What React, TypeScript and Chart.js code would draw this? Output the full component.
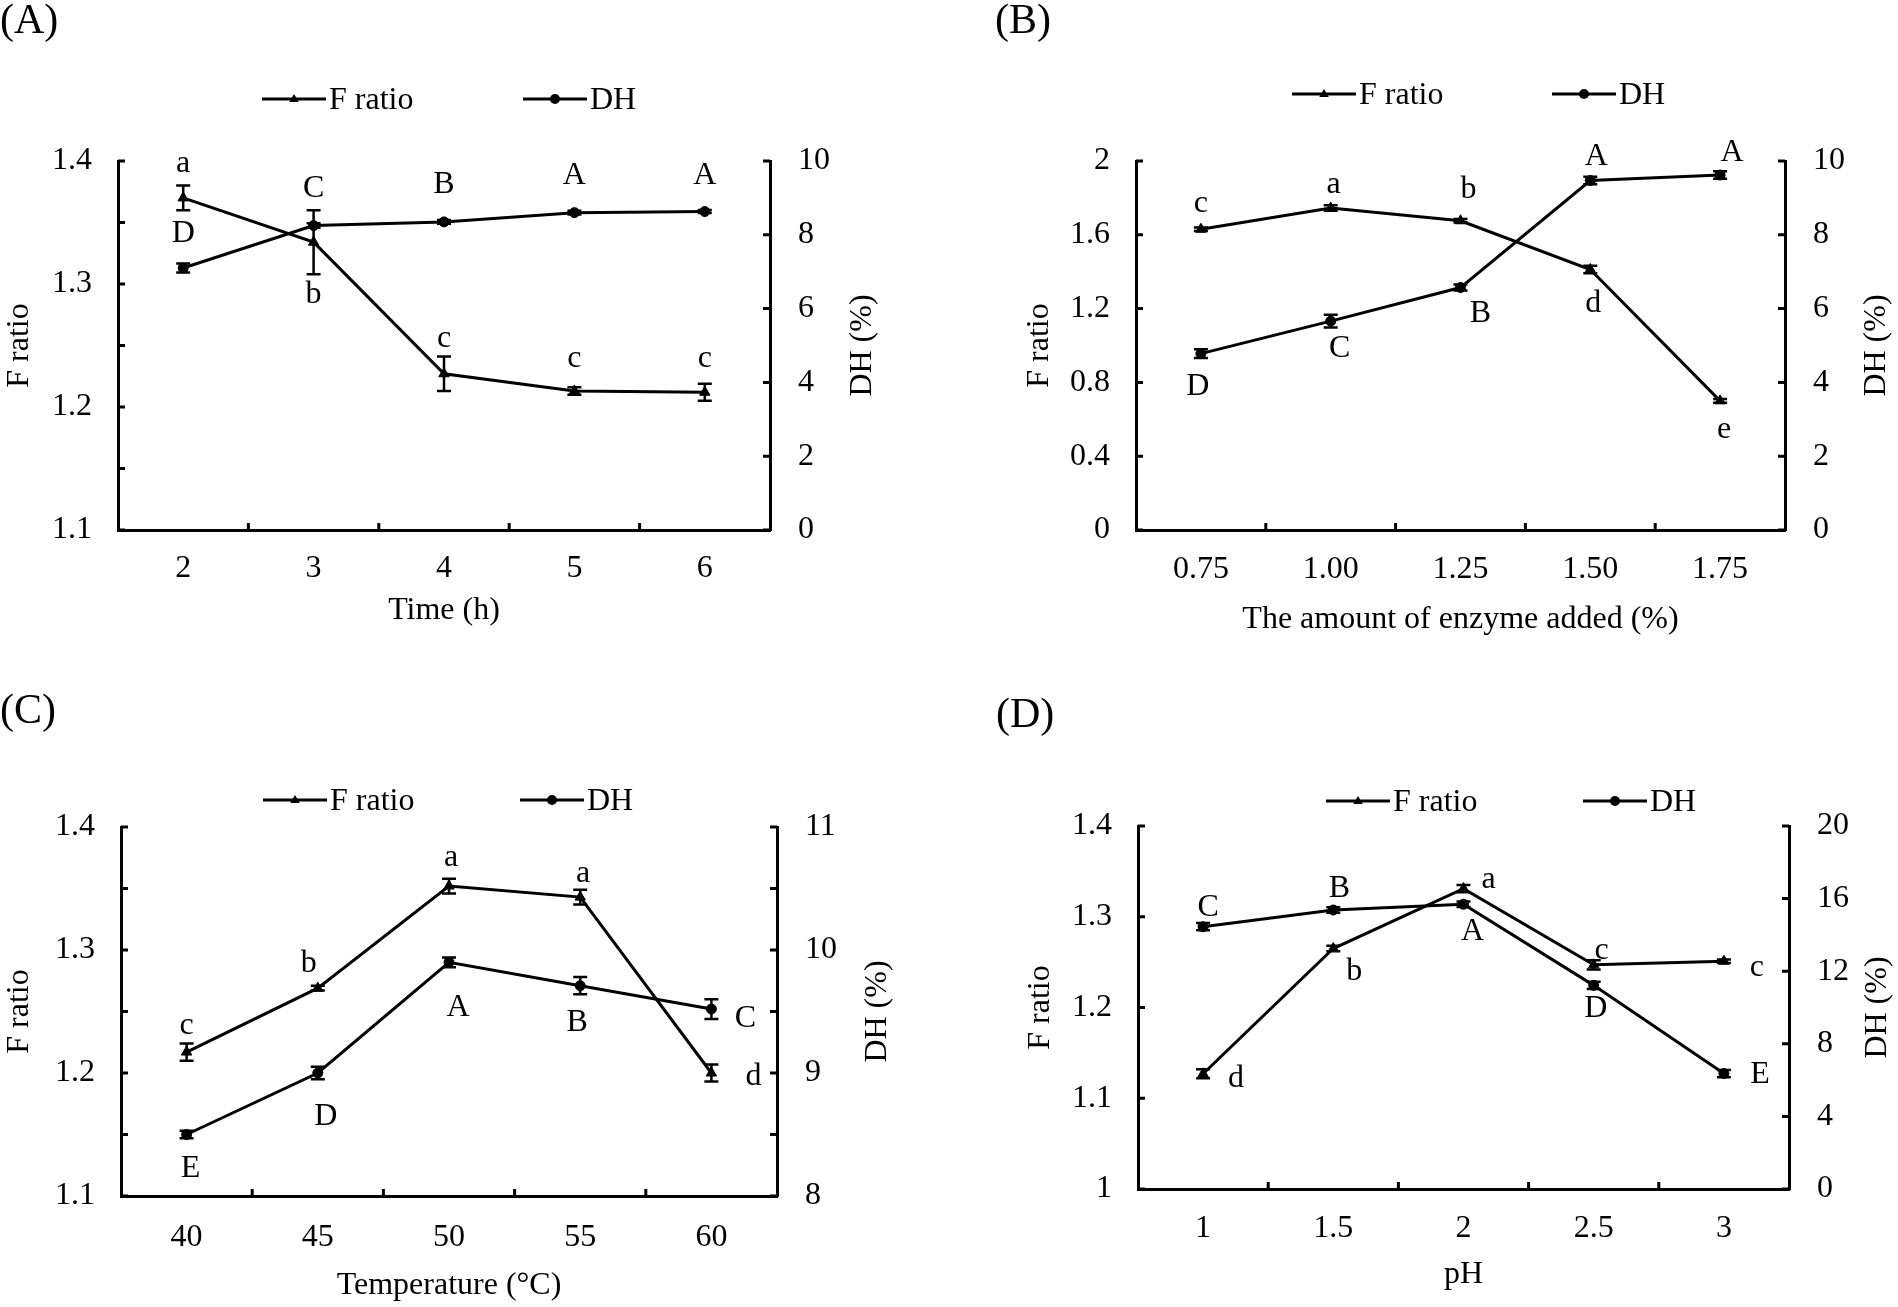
import React, { useEffect, useRef } from 'react';
import { Chart, registerables } from 'chart.js';

Chart.register(...registerables);

const SERIF = '"Liberation Serif", "Times New Roman", Times, serif';
const FS = 32;

// ---------------- (A) Time ----------------
const timeLabels = ['2', '3', '4', '5', '6'];
const timeFRatio = [1.37, 1.334, 1.227, 1.213, 1.212];
const timeFRatioErr = [0.01, 0.026, 0.014, 0.003, 0.007];
const timeDH = [7.1, 8.25, 8.35, 8.6, 8.63];
const timeDHErr = [0.12, 0.06, 0.05, 0.05, 0.04];
const timeFLetters = ['a', 'b', 'c', 'c', 'c'];
const timeDHLetters = ['D', 'C', 'B', 'A', 'A'];
const timeFTicks = [1.1, 1.15, 1.2, 1.25, 1.3, 1.35, 1.4];
const timeFTickLabels = ['1.1', '', '1.2', '', '1.3', '', '1.4'];
const timeDHTicks = [0, 2, 4, 6, 8, 10];
const timeDHTickLabels = ['0', '2', '4', '6', '8', '10'];

// ---------------- (B) Enzyme amount ----------------
const enzymeLabels = ['0.75', '1.00', '1.25', '1.50', '1.75'];
const enzymeFRatio = [1.63, 1.745, 1.676, 1.412, 0.7];
const enzymeFRatioErr = [0.01, 0.015, 0.01, 0.02, 0.01];
const enzymeDH = [4.78, 5.66, 6.57, 9.47, 9.62];
const enzymeDHErr = [0.12, 0.17, 0.08, 0.1, 0.1];
const enzymeFLetters = ['c', 'a', 'b', 'd', 'e'];
const enzymeDHLetters = ['D', 'C', 'B', 'A', 'A'];
const enzymeFTicks = [0, 0.4, 0.8, 1.2, 1.6, 2];
const enzymeFTickLabels = ['0', '0.4', '0.8', '1.2', '1.6', '2'];
const enzymeDHTicks = [0, 2, 4, 6, 8, 10];
const enzymeDHTickLabels = ['0', '2', '4', '6', '8', '10'];

// ---------------- (C) Temperature ----------------
const tempLabels = ['40', '45', '50', '55', '60'];
const tempFRatio = [1.217, 1.269, 1.352, 1.343, 1.2];
const tempFRatioErr = [0.007, 0.002, 0.006, 0.006, 0.007];
const tempDH = [8.5, 9.0, 9.9, 9.71, 9.52];
const tempDHErr = [0.03, 0.05, 0.04, 0.07, 0.08];
const tempFLetters = ['c', 'b', 'a', 'a', 'd'];
const tempDHLetters = ['E', 'D', 'A', 'B', 'C'];
const tempFTicks = [1.1, 1.15, 1.2, 1.25, 1.3, 1.35, 1.4];
const tempFTickLabels = ['1.1', '', '1.2', '', '1.3', '', '1.4'];
const tempDHTicks = [8, 8.5, 9, 9.5, 10, 10.5, 11];
const tempDHTickLabels = ['8', '', '9', '', '10', '', '11'];

// ---------------- (D) pH ----------------
const phLabels = ['1', '1.5', '2', '2.5', '3'];
const phFRatio = [1.127, 1.265, 1.331, 1.247, 1.251];
const phFRatioErr = [0.005, 0.003, 0.004, 0.005, 0.002];
const phDH = [14.45, 15.37, 15.69, 11.22, 6.36];
const phDHErr = [0.2, 0.15, 0.15, 0.2, 0.2];
const phFLetters = ['d', 'b', 'a', 'c', 'c'];
const phDHLetters = ['C', 'B', 'A', 'D', 'E'];
const phFTicks = [1, 1.1, 1.2, 1.3, 1.4];
const phFTickLabels = ['1', '1.1', '1.2', '1.3', '1.4'];
const phDHTicks = [0, 4, 8, 12, 16, 20];
const phDHTickLabels = ['0', '4', '8', '12', '16', '20'];

type Box = {
  L: number; R: number; T: number; B: number; padL: number;
  fTitleX: number; dhTitleX: number; xLabelPad: number; xTitleY: number;
};

type Panel = {
  tag: string; tagX: number; tagY: number;
  labels: string[]; xTitle: string;
  f: number[]; fErr: number[]; fLetters: string[]; fOff: number[][];
  dh: number[]; dhErr: number[]; dhLetters: string[]; dhOff: number[][];
  fTicks: number[]; fTickLabels: string[];
  dhTicks: number[]; dhTickLabels: string[];
  box: Box;
  legend: { x1: number; x2: number; y: number };
};

const PANELS: Panel[] = [
  {
    tag: '(A)', tagX: 0, tagY: 22,
    labels: timeLabels, xTitle: 'Time (h)',
    f: timeFRatio, fErr: timeFRatioErr, fLetters: timeFLetters,
    fOff: [[0, -37], [0, 52], [0, -38], [0, -35], [0, -37]],
    dh: timeDH, dhErr: timeDHErr, dhLetters: timeDHLetters,
    dhOff: [[0, -34], [0, -37], [0, -37], [0, -37], [0, -36]],
    fTicks: timeFTicks, fTickLabels: timeFTickLabels,
    dhTicks: timeDHTicks, dhTickLabels: timeDHTickLabels,
    box: { L: 118, R: 770, T: 161, B: 530, padL: 0, fTitleX: 20, dhTitleX: 863, xLabelPad: 19, xTitleY: 611 },
    legend: { x1: 262, x2: 523, y: 99 },
  },
  {
    tag: '(B)', tagX: 995, tagY: 22,
    labels: enzymeLabels, xTitle: 'The amount of enzyme added (%)',
    f: enzymeFRatio, fErr: enzymeFRatioErr, fLetters: enzymeFLetters,
    fOff: [[0, -29], [3, -26], [8, -31], [3, 34], [4, 26]],
    dh: enzymeDH, dhErr: enzymeDHErr, dhLetters: enzymeDHLetters,
    dhOff: [[-3, 33], [9, 27], [20, 26], [6, -24], [12, -22]],
    fTicks: enzymeFTicks, fTickLabels: enzymeFTickLabels,
    dhTicks: enzymeDHTicks, dhTickLabels: enzymeDHTickLabels,
    box: { L: 1136, R: 1785, T: 161, B: 530, padL: 1000, fTitleX: 1040, dhTitleX: 1877, xLabelPad: 20, xTitleY: 620 },
    legend: { x1: 1292, x2: 1552, y: 94 },
  },
  {
    tag: '(C)', tagX: 0, tagY: 712,
    labels: tempLabels, xTitle: 'Temperature (°C)',
    f: tempFRatio, fErr: tempFRatioErr, fLetters: tempFLetters,
    fOff: [[0, -29], [-9, -25], [2, -31], [3, -27], [42, 4]],
    dh: tempDH, dhErr: tempDHErr, dhLetters: tempDHLetters,
    dhOff: [[4, 34], [8, 44], [9, 45], [-3, 37], [34, 10]],
    fTicks: tempFTicks, fTickLabels: tempFTickLabels,
    dhTicks: tempDHTicks, dhTickLabels: tempDHTickLabels,
    box: { L: 121, R: 777, T: 827, B: 1196, padL: 0, fTitleX: 20, dhTitleX: 878, xLabelPad: 22, xTitleY: 1286 },
    legend: { x1: 263, x2: 520, y: 800 },
  },
  {
    tag: '(D)', tagX: 996, tagY: 716,
    labels: phLabels, xTitle: 'pH',
    f: phFRatio, fErr: phFRatioErr, fLetters: phFLetters,
    fOff: [[33, 5], [21, 23], [25, -12], [8, -17], [33, 3]],
    dh: phDH, dhErr: phDHErr, dhLetters: phDHLetters,
    dhOff: [[5, -19], [6, -21], [9, 27], [2, 23], [36, 1]],
    fTicks: phFTicks, fTickLabels: phFTickLabels,
    dhTicks: phDHTicks, dhTickLabels: phDHTickLabels,
    box: { L: 1138, R: 1789, T: 826, B: 1189, padL: 1000, fTitleX: 1041, dhTitleX: 1878, xLabelPad: 20, xTitleY: 1275 },
    legend: { x1: 1326, x2: 1583, y: 801 },
  },
];

const W = 1898;
const H = 1307;
const RIGHT_AXIS_W = 100;
const TICK_LEN = 7;

function drawMarker(ctx: CanvasRenderingContext2D, style: string, x: number, y: number, r: number) {
  ctx.beginPath();
  if (style === 'triangle') {
    ctx.moveTo(x, y - r);
    ctx.lineTo(x + r * 0.95, y + r * 0.6);
    ctx.lineTo(x - r * 0.95, y + r * 0.6);
    ctx.closePath();
  } else {
    ctx.arc(x, y, r, 0, Math.PI * 2);
  }
  ctx.fill();
}

function letterShift(s: string) {
  return /^[acemnorsuvwxz]$/.test(s) ? 3 : 0;
}

function figurePlugin(p: Panel) {
  return {
    id: 'figure' + p.tag.replace(/[()]/g, ''),
    afterDatasetsDraw(chart: any) {
      const ctx: CanvasRenderingContext2D = chart.ctx;
      ctx.save();
      ctx.strokeStyle = '#000';
      ctx.lineWidth = 2.5;
      chart.data.datasets.forEach((ds: any, di: number) => {
        const meta = chart.getDatasetMeta(di);
        const ys = chart.scales[ds.yAxisID];
        const errs = di === 0 ? p.fErr : p.dhErr;
        meta.data.forEach((pt: any, i: number) => {
          const v = ds.data[i];
          const e = errs[i];
          const y1 = ys.getPixelForValue(v + e);
          const y2 = ys.getPixelForValue(v - e);
          ctx.beginPath();
          ctx.moveTo(pt.x, y1); ctx.lineTo(pt.x, y2);
          ctx.moveTo(pt.x - 7, y1); ctx.lineTo(pt.x + 7, y1);
          ctx.moveTo(pt.x - 7, y2); ctx.lineTo(pt.x + 7, y2);
          ctx.stroke();
        });
      });
      ctx.restore();
    },
    afterDraw(chart: any) {
      const ctx: CanvasRenderingContext2D = chart.ctx;
      const area = chart.chartArea;
      const x = chart.scales.x;
      const yF = chart.scales.yF;
      const yDH = chart.scales.yDH;
      ctx.save();
      // tick marks (inside)
      ctx.strokeStyle = '#000';
      ctx.lineWidth = 3;
      ctx.beginPath();
      yF.ticks.forEach((t: any) => {
        const y = yF.getPixelForValue(t.value);
        ctx.moveTo(area.left, y); ctx.lineTo(area.left + TICK_LEN, y);
      });
      yDH.ticks.forEach((t: any) => {
        const y = yDH.getPixelForValue(t.value);
        ctx.moveTo(area.right - TICK_LEN, y); ctx.lineTo(area.right, y);
      });
      for (let i = 0; i < p.labels.length - 1; i++) {
        const px = x.getPixelForValue(i + 0.5);
        ctx.moveTo(px, area.bottom); ctx.lineTo(px, area.bottom - TICK_LEN);
      }
      ctx.stroke();

      // significance letters
      ctx.fillStyle = '#000';
      ctx.font = `${FS}px ${SERIF}`;
      ctx.textAlign = 'center';
      ctx.textBaseline = 'middle';
      const lettersets = [
        { letters: p.fLetters, off: p.fOff },
        { letters: p.dhLetters, off: p.dhOff },
      ];
      lettersets.forEach((ls, di) => {
        const meta = chart.getDatasetMeta(di);
        meta.data.forEach((pt: any, i: number) => {
          const s = ls.letters[i];
          const [dx, dy] = ls.off[i];
          ctx.fillText(s, pt.x + dx, pt.y + dy + letterShift(s));
        });
      });

      // legend
      const items = [p.legend.x1, p.legend.x2];
      chart.data.datasets.forEach((ds: any, di: number) => {
        const lx = items[di];
        const ly = p.legend.y;
        ctx.strokeStyle = '#000';
        ctx.lineWidth = 3;
        ctx.beginPath();
        ctx.moveTo(lx, ly); ctx.lineTo(lx + 64, ly);
        ctx.stroke();
        ctx.fillStyle = '#000';
        drawMarker(ctx, ds.pointStyle, lx + 32, ly, di === 0 ? 5 : 5);
        ctx.textAlign = 'left';
        ctx.textBaseline = 'middle';
        ctx.fillText(ds.label, lx + 67, ly + 2);
      });

      // right axis title (reads bottom to top)
      ctx.save();
      ctx.translate(p.box.dhTitleX, (area.top + area.bottom) / 2);
      ctx.rotate(-Math.PI / 2);
      ctx.textAlign = 'center';
      ctx.textBaseline = 'middle';
      ctx.fillText('DH (%)', 0, 0);
      ctx.restore();

      // panel tag
      ctx.font = `42px ${SERIF}`;
      ctx.textAlign = 'left';
      ctx.textBaseline = 'middle';
      ctx.fillText(p.tag, p.tagX, p.tagY);
      ctx.restore();
    },
  };
}

function makeConfig(p: Panel): any {
  const b = p.box;
  const xH = b.xTitleY + FS * 0.6 - b.B;
  const font = { family: SERIF, size: FS };
  const axisCommon = {
    grid: { display: false, drawTicks: false },
    border: { display: true, color: '#000', width: 3 },
  };
  return {
    type: 'line',
    data: {
      labels: p.labels,
      datasets: [
        {
          label: 'F ratio', data: p.f, yAxisID: 'yF',
          borderColor: '#000', backgroundColor: '#000', borderWidth: 3,
          pointStyle: 'triangle', pointRadius: 6, pointBackgroundColor: '#000',
          pointBorderColor: '#000', pointBorderWidth: 1, tension: 0, fill: false,
        },
        {
          label: 'DH', data: p.dh, yAxisID: 'yDH',
          borderColor: '#000', backgroundColor: '#000', borderWidth: 3,
          pointStyle: 'circle', pointRadius: 5, pointBackgroundColor: '#000',
          pointBorderColor: '#000', pointBorderWidth: 1, tension: 0, fill: false,
        },
      ],
    },
    options: {
      animation: false,
      responsive: false,
      maintainAspectRatio: false,
      devicePixelRatio: 1,
      events: [],
      layout: {
        padding: {
          left: b.padL,
          top: b.T,
          right: W - b.R - RIGHT_AXIS_W,
          bottom: H - b.B - xH,
        },
      },
      plugins: { legend: { display: false }, tooltip: { enabled: false }, title: { display: false } },
      scales: {
        x: {
          ...axisCommon,
          type: 'category',
          offset: true,
          ticks: { font, color: '#000', padding: b.xLabelPad, maxRotation: 0, autoSkip: false },
          title: { display: true, text: p.xTitle, font, color: '#000', padding: { top: 0, bottom: 0 } },
          afterFit: (s: any) => { s.height = xH; },
        },
        yF: {
          ...axisCommon,
          type: 'linear',
          position: 'left',
          min: p.fTicks[0],
          max: p.fTicks[p.fTicks.length - 1],
          afterBuildTicks: (s: any) => { s.ticks = p.fTicks.map((v) => ({ value: v })); },
          ticks: {
            font, color: '#000', padding: 26, autoSkip: false,
            callback: (_v: any, i: number) => p.fTickLabels[i],
          },
          title: {
            display: true, text: 'F ratio', font, color: '#000',
            padding: { top: b.fTitleX - b.padL - FS * 0.6, bottom: 0 },
          },
          afterFit: (s: any) => { s.width = b.L - b.padL; },
        },
        yDH: {
          ...axisCommon,
          type: 'linear',
          position: 'right',
          min: p.dhTicks[0],
          max: p.dhTicks[p.dhTicks.length - 1],
          afterBuildTicks: (s: any) => { s.ticks = p.dhTicks.map((v) => ({ value: v })); },
          ticks: {
            font, color: '#000', padding: 28, autoSkip: false,
            callback: (_v: any, i: number) => p.dhTickLabels[i],
          },
          title: { display: false },
          afterFit: (s: any) => { s.width = RIGHT_AXIS_W; },
        },
      },
    },
    plugins: [figurePlugin(p)],
  };
}

export default function App() {
  const refs = useRef<(HTMLCanvasElement | null)[]>([]);
  useEffect(() => {
    const charts = PANELS.map((p, i) => new Chart(refs.current[i] as HTMLCanvasElement, makeConfig(p)));
    return () => charts.forEach((c) => c.destroy());
  }, []);
  return (
    <div style={{ position: 'fixed', left: 0, top: 0, width: W, height: H, background: '#fff', overflow: 'hidden' }}>
      {PANELS.map((p, i) => (
        <canvas
          key={p.tag}
          ref={(el) => { refs.current[i] = el; }}
          width={W}
          height={H}
          style={{ position: 'absolute', left: 0, top: 0, width: W, height: H }}
        />
      ))}
    </div>
  );
}
